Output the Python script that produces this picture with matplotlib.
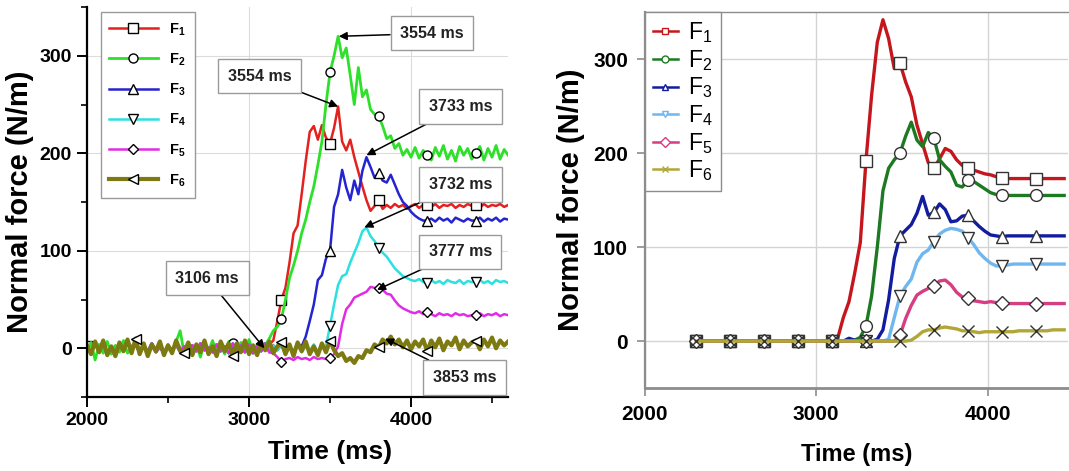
import numpy as np
import matplotlib
matplotlib.use('Agg')
import matplotlib.pyplot as plt
from matplotlib.lines import Line2D
from matplotlib.ticker import MultipleLocator

plt.rcParams['font.family'] = ['Liberation Sans', 'DejaVu Sans']
plt.rcParams['mathtext.fontset'] = 'custom'
plt.rcParams['mathtext.rm'] = 'Liberation Sans'
plt.rcParams['mathtext.bf'] = 'Liberation Sans:bold'
plt.rcParams['mathtext.it'] = 'Liberation Sans:italic'

# ---------------- left panel: measured (noisy), 25 ms samples from 2000 ms
t0_left, dt_left = 2000, 25
baseline = [2, -4, 5, -3, 4, -5, 1, -4,
            3, -2, 5, -3, 4, -5, 2, -3,
            5, -4, 1, -5, 3, -2, 4, -4,
            2, -5, 3, -3, 5, -2, 1, -4,
            4, -3, 2, -5, 5, -2, 3, -4,
            4, -5, 2, -3, 5, -4, 3, -2,
            4, -5, 1, -3, 5, -4, 2, -3,
            4, -5, 3, -2, 5, -4, 2, -3]

f1_left = baseline[:45] + [
    4, 8, 28, 50, 62, 88, 118, 126, 158, 192, 222, 228, 214, 229, 216, 210,
    226, 248, 212, 203, 214, 196, 181, 166, 152, 141, 146, 152,
    143, 147, 144, 148, 145, 147, 143, 146, 148, 144, 147, 147,
    145, 148, 144, 147, 146, 148, 144, 147, 145, 148, 146, 147,
    144, 148, 145, 147, 146, 148, 145, 147]
f2_left = [-3, 6, -12, 4, -5, 7, -6, 3, -4, 8, -5, 2, 6, -4, 5, -7,
           3, -3, 6, -5, 4, -4, 7, 18, -6, 5, -4, 3, -9, 6, -3, 8,
           -5, 4, -6, 7, 5, -4, 6, -3, 9, -5, 4, -2,
           3, 10, 18, 22, 30, 50, 72, 85, 100, 118, 132, 150, 166, 188, 212,
           250, 283, 300, 320, 298, 308, 280, 250, 288, 258, 265, 245, 240, 238,
           228, 215, 218, 205, 210, 198, 204, 196, 206, 195, 203, 198,
           193, 206, 197, 208, 194, 203, 192, 207, 198, 205, 194, 200,
           207, 193, 205, 196, 208, 194, 204, 198]
f3_left = baseline[:53] + [
    2, 12, 28, 45, 70, 75, 92, 100, 145, 158, 183, 165, 152, 172, 158, 182,
    196, 186, 175, 180,
    172, 170, 178, 168, 158, 150, 146, 140, 136, 133, 131, 131,
    133, 130, 134, 131, 133, 129, 134, 132, 130, 133, 131, 131,
    134, 130, 133, 131, 134, 130, 133, 132]
f4_left = baseline[:59] + [
    2, 23, 45, 65, 74, 76, 88, 98, 108, 120, 124, 115, 110, 103,
    98, 94, 88, 82, 78, 74, 72, 70, 69, 71, 68, 67,
    70, 67, 69, 66, 70, 68, 67, 70, 66, 69, 68, 68,
    70, 67, 69, 66, 70, 68, 69, 67]
f5_left = baseline[:46] + [
    -5, -9, -14, -11, -10, -12, -9, -11, -10, -12, -9, -11, -10, -11, -10,
    -6, 2, 25, 40, 45, 52, 54, 56, 58, 63, 62, 62,
    60, 56, 55, 49, 44, 41, 39, 37, 36, 38, 35, 37,
    35, 33, 36, 34, 35, 33, 36, 34, 35, 33, 34, 34,
    36, 33, 35, 34, 36, 33, 35, 34]
f6_left = [3, -6, 7, -4, 8, -7, 2, -8, 6, -3, 9, -5, 10,
           -6, 5, -8, 4, -3, 7, -7, 3, -5, 8, -2, -5,
           6, -7, 4, -4, 8, -6, 2, -8, 7, -3, 5, -8,
           5, -4, 8, -6, 3, -7, 6, -2, 7, -5, 2, 6,
           -6, 4, -8, 6, -3, 7, -6, 2, -7, 5, -4, 8,
           -2, -8, -5, -13, -10, -15, -8, -10, -2, -4, 4, 1,
           9, 5, 12, 4, 9, 1, 8, -1, 7, 2, 9, -3,
           8, 1, 10, -2, 7, 3, 11, -1, 8, 2, 6, 8,
           -1, 9, 2, 11, 0, 8, 3, 7]

# ---------------- right panel: simulated (smooth), 33 ms samples from 2300 ms
t0_right, dt_right = 2300, 33
f1_right = [0] * 25 + [3, 25, 42, 72, 105, 192, 262, 318, 342, 322, 290, 296,
                       276, 260, 230, 210, 190, 184, 194, 205, 202, 193, 187,
                       184, 182, 180, 178, 177, 175, 174] + [173] * 11
f2_right = [0] * 28 + [1, 4, 16, 48, 100, 160, 184, 193, 200, 218, 233, 214,
                       207, 222, 216, 193, 186, 180, 166, 164, 172, 170, 166,
                       162, 158, 156, 155] + [155] * 11
f3_right = [0] * 27 + [3, 1, 0, 0, 0, 2, 12, 44, 88, 112, 118, 124, 136, 154,
                       134, 137, 146, 140, 127, 128, 133, 134, 128, 122, 117,
                       113, 112, 111] + [112] * 11
f4_right = [0] * 34 + [2, 25, 48, 58, 66, 84, 93, 97, 106, 114, 118, 120, 119,
                       117, 110, 103, 94, 88, 83, 80, 80,
                       81, 82, 82, 82, 82, 82, 82, 82, 82, 82, 82]
f5_right = [0] * 36 + [6, 24, 38, 49, 53, 56, 59, 64, 65, 60, 52, 47, 46, 43,
                       42, 41, 42, 41, 41] + [40] * 11
f6_right = [0] * 38 + [1, 5, 10, 12, 12, 14, 15, 14, 13, 11, 11, 10, 9, 10,
                       10, 10, 10, 10, 10, 11, 11, 11, 11, 11, 11, 12, 12, 12]

labels_left = [r'$\mathbf{F_%d}$' % k for k in range(1, 7)]
labels_right = [r'F$_{\mathrm{%d}}$' % k for k in range(1, 7)]

left_series = [f1_left, f2_left, f3_left, f4_left, f5_left, f6_left]
right_series = [f1_right, f2_right, f3_right, f4_right, f5_right, f6_right]
for s in left_series:
    assert len(s) == 105, len(s)
for s in right_series:
    assert len(s) == 66, len(s)

t_left = t0_left + dt_left * np.arange(105)
t_right = t0_right + dt_right * np.arange(66)

colors_left = ['#e3211f', '#2ee02a', '#2424d0', '#2ce0e0', '#e12ce6', '#7d7a12']
colors_right = ['#c4161c', '#1d7a22', '#111c9e', '#70b6ef', '#d53e80', '#b1a737']
markers_left = ['s', 'o', '^', 'v', 'D', '<']
markers_right = ['s', 'o', '^', 'v', 'D', 'x']
widths_left = [1.8, 2.0, 1.8, 1.8, 1.8, 3.0]
mark_left = [[0, 48, 60, 72, 84, 96], [36, 48, 60, 72, 84, 96],
             [60, 72, 84, 96], [60, 72, 84, 96], [48, 60, 72, 84, 96],
             list(range(12, 105, 12))]

fig = plt.figure(figsize=(10.69, 4.71), dpi=100)
fig.patch.set_facecolor('white')

# ---------------- left
ax = fig.add_axes([0.0814, 0.157, 0.394, 0.828])
for k in range(6):
    ms = 5.5 if markers_left[k] == 'D' else 6.5
    ax.plot(t_left, left_series[k], color=colors_left[k], lw=widths_left[k],
            marker=markers_left[k], markevery=mark_left[k], ms=ms,
            mfc='white', mec='black', mew=1.0, label=labels_left[k])
ax.set_xlim(2000, 4600)
ax.set_ylim(-50, 350)
ax.xaxis.set_major_locator(MultipleLocator(1000))
ax.xaxis.set_minor_locator(MultipleLocator(500))
ax.yaxis.set_major_locator(MultipleLocator(100))
ax.yaxis.set_minor_locator(MultipleLocator(50))
ax.grid(True, which='major', color='#dcdcdc', lw=0.8)
ax.set_axisbelow(True)
for side in ['top', 'right']:
    ax.spines[side].set_visible(False)
for side in ['left', 'bottom']:
    ax.spines[side].set_linewidth(1.6)
ax.tick_params(which='major', length=7, width=1.4, labelsize=14, pad=4)
ax.tick_params(which='minor', length=4, width=1.2)
for lab in ax.get_xticklabels() + ax.get_yticklabels():
    lab.set_fontweight('bold')
ax.set_xlabel('Time (ms)', fontsize=19, fontweight='bold')
ax.set_ylabel('Normal force (N/m)', fontsize=21, fontweight='bold', labelpad=4)
ax.xaxis.set_label_coords(0.577, -0.11)
leg = ax.legend(loc='upper left', bbox_to_anchor=(0.015, 1.005), fontsize=10.5,
                handlelength=3.3, labelspacing=0.95, borderpad=0.6,
                fancybox=False, framealpha=1, edgecolor='#9a9a9a')
leg.get_frame().set_linewidth(1.0)

notes = [('3554 ms', (3554, 320), (4129, 323)),
         ('3554 ms', (3550, 248), (3065, 279)),
         ('3733 ms', (3725, 198), (4304, 248)),
         ('3732 ms', (3712, 124), (4304, 168)),
         ('3777 ms', (3790, 60), (4304, 99)),
         ('3106 ms', (3095, 0), (2742, 72)),
         ('3853 ms', (3840, 10), (4329, -30))]
for txt, xy, xytext in notes:
    ax.annotate(txt, xy=xy, xytext=xytext, ha='center', va='center',
                fontsize=11.5, fontweight='bold', color='#222222', zorder=10,
                bbox=dict(boxstyle='square,pad=0.6', fc='white', ec='#9a9a9a', lw=1),
                arrowprops=dict(arrowstyle='-|>', color='black', lw=1.1,
                                mutation_scale=12, shrinkA=0, shrinkB=0))

# ---------------- right
ax2 = fig.add_axes([0.603, 0.176, 0.396, 0.798])
for k in range(6):
    ms = 7 if markers_right[k] == 'D' else 8.5
    ax2.plot(t_right, right_series[k], color=colors_right[k], lw=2.4,
             marker=markers_right[k], markevery=6, ms=ms,
             mfc='white', mec='#333333', mew=1.0)
ax2.set_xlim(2000, 4467)
ax2.set_ylim(-50, 350)
ax2.xaxis.set_major_locator(MultipleLocator(1000))
ax2.yaxis.set_major_locator(MultipleLocator(100))
ax2.grid(True, color='#d4d4d4', lw=1.0)
ax2.set_axisbelow(True)
ax2.spines['right'].set_visible(False)
for side in ['left', 'bottom', 'top']:
    ax2.spines[side].set_color('#8c8c8c')
ax2.spines['left'].set_linewidth(1.6)
ax2.spines['bottom'].set_linewidth(2.0)
ax2.spines['top'].set_linewidth(1.0)
ax2.tick_params(length=6, width=1.2, color='#8c8c8c', labelsize=15, pad=6)
for lab in ax2.get_xticklabels() + ax2.get_yticklabels():
    lab.set_fontweight('bold')
ax2.set_xlabel('Time (ms)', fontsize=17, fontweight='bold')
ax2.set_ylabel('Normal force (N/m)', fontsize=21, fontweight='bold', labelpad=6)
ax2.xaxis.set_label_coords(0.5, -0.145)
handles = [Line2D([], [], color=colors_right[k], lw=1.8, marker=markers_right[k],
                  ms=5, mfc='white', mec=colors_right[k], mew=1.0)
           for k in range(6)]
leg2 = ax2.legend(handles, labels_right, loc='upper left', bbox_to_anchor=(0, 1),
                  borderaxespad=0, fontsize=16.5, handlelength=1.1, handletextpad=0.45,
                  labelspacing=0.12, borderpad=0.35, fancybox=False, framealpha=1,
                  edgecolor='#8c8c8c')
leg2.get_frame().set_linewidth(1.0)

fig.savefig('out.png', dpi=100, facecolor='white')
